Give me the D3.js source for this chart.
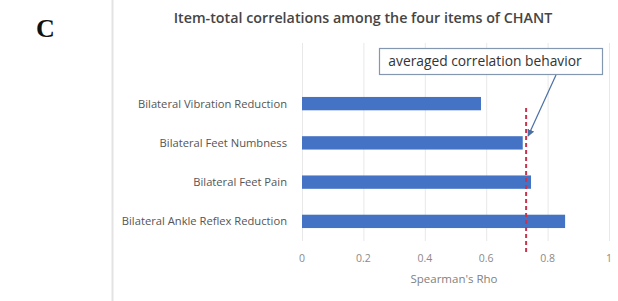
<!DOCTYPE html>
<html><head><meta charset="utf-8">
<script src="https://cdn.jsdelivr.net/npm/d3@7"></script>
<style>
html,body{margin:0;padding:0;background:#fff;}
svg{display:block;font-family:"Open Sans",sans-serif;}
</style></head>
<body>
<svg id="chart" width="618" height="301"></svg>
<script>
const panelLabel = "C";
const chartTitle = "Item-total correlations among the four items of CHANT";
const categories = ["Bilateral Vibration Reduction","Bilateral Feet Numbness","Bilateral Feet Pain","Bilateral Ankle Reflex Reduction"];
const values = [0.583, 0.719, 0.746, 0.857];
const averageValue = 0.73;
const xTicks = [0, 0.2, 0.4, 0.6, 0.8, 1];
const xTickLabels = ["0", "0.2", "0.4", "0.6", "0.8", "1"];
const xAxisTitle = "Spearman's Rho";
const annotationText = "averaged correlation behavior";

const svg = d3.select("#chart");
const x = d3.scaleLinear().domain([0, 1]).range([302, 609]);
const y = d3.scaleBand().domain(categories).range([84, 241]).paddingInner(0.66).paddingOuter(0.33);
const plotTop = 43, plotBottom = 241;

// separator
svg.append("line").attr("x1",112.5).attr("x2",112.5).attr("y1",0).attr("y2",301)
  .attr("stroke","#e3e3e3").attr("stroke-width",2);

svg.append("text").attr("x",36).attr("y",37).text(panelLabel)
  .attr("font-family","'Liberation Serif','DejaVu Serif',serif").attr("font-weight","bold")
  .attr("font-size",26).attr("fill","#111");

svg.append("text").attr("x",363).attr("y",23).attr("text-anchor","middle")
  .attr("font-size",14.3).attr("font-weight",600).attr("fill","#454545").text(chartTitle);

// gridlines
svg.append("g").selectAll("line").data(xTicks).join("line")
  .attr("x1",d=>x(d)+0.5).attr("x2",d=>x(d)+0.5).attr("y1",plotTop).attr("y2",plotBottom)
  .attr("stroke","#e8e8e8").attr("stroke-width",1);

// bars
svg.append("g").selectAll("rect").data(categories).join("rect")
  .attr("x",x(0)).attr("y",d=>y(d)).attr("height",y.bandwidth())
  .attr("width",(d,i)=>x(values[i])-x(0)).attr("fill","#4472c4");

// category labels
svg.append("g").selectAll("text").data(categories).join("text")
  .attr("x",287).attr("y",d=>y(d)+y.bandwidth()/2).attr("dy","0.35em")
  .attr("text-anchor","end").attr("font-size",11.2).attr("fill","#555").text(d=>d);

// x tick labels
svg.append("g").selectAll("text").data(xTicks).join("text")
  .attr("x",d=>x(d)).attr("y",258).attr("dy","0.35em").attr("text-anchor","middle")
  .attr("font-size",10.5).attr("fill","#8a8a8a").text((d,i)=>xTickLabels[i]);

svg.append("text").attr("x",454).attr("y",279).attr("dy","0.35em").attr("text-anchor","middle")
  .attr("font-size",11.5).attr("fill","#7f7f7f").text(xAxisTitle);

// average dashed line
svg.append("line").attr("x1",x(averageValue)).attr("x2",x(averageValue))
  .attr("y1",108).attr("y2",254).attr("stroke","#c8344e").attr("stroke-width",2)
  .attr("stroke-dasharray","4,3");

// annotation box
svg.append("rect").attr("x",379.5).attr("y",48.5).attr("width",223).attr("height",26)
  .attr("fill","#fff").attr("stroke","#8497b0").attr("stroke-width",1.2);
svg.append("text").attr("x",485).attr("y",61.5).attr("dy","0.35em").attr("text-anchor","middle")
  .attr("font-size",13.8).attr("fill","#333").text(annotationText);

// arrow
const defs = svg.append("defs");
defs.append("marker").attr("id","ah").attr("viewBox","0 0 10 10").attr("refX",9).attr("refY",5)
  .attr("markerWidth",6).attr("markerHeight",6).attr("orient","auto-start-reverse")
  .append("path").attr("d","M0,0L10,5L0,10z").attr("fill","#4a6fa5");
svg.append("line").attr("x1",556).attr("y1",75).attr("x2",x(averageValue)+2).attr("y2",136)
  .attr("stroke","#4a6fa5").attr("stroke-width",1.2).attr("marker-end","url(#ah)");
</script>
</body></html>
